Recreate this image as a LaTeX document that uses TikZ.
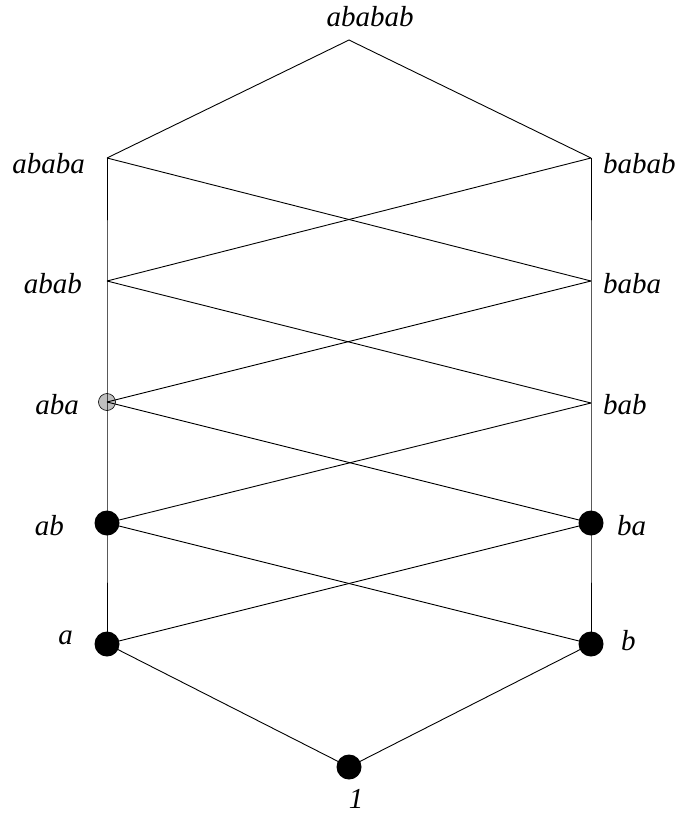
\documentclass[tikz,border=0pt]{standalone}
\usepackage{fontspec}
\setmainfont{Liberation Serif}
\usepackage{tikz}

\tikzset{
  lbl/.style={inner sep=0pt, font=\fontsize{29}{34}\selectfont\itshape},
  bigdot/.style={circle, fill=black, inner sep=0pt, minimum size=25pt},
  greydot/.style={circle, draw=black, fill=black!25, line width=0.6pt, inner sep=0pt, minimum size=17pt},
  edge/.style={line width=0.9pt}
}

\begin{document}
\begin{tikzpicture}[x=1pt,y=-1pt]
        \useasboundingbox (0,0) rectangle (678,816);

        % vertices
        \coordinate (ababab) at (349,40);
        \coordinate (ababa) at (107,158);
        \coordinate (babab) at (591,158);
        \coordinate (abab) at (107,281);
        \coordinate (baba) at (591,281);
        \coordinate (aba) at (107,402);
        \coordinate (bab) at (591,403);
        \coordinate (ab) at (107,523);
        \coordinate (ba) at (591,523);
        \coordinate (a) at (107,644);
        \coordinate (b) at (591,644);
        \coordinate (one) at (349,767);

        % dots
        \node[greydot] (d-aba) at (aba) {};
        \node[bigdot] (d-ab) at (ab) {};
        \node[bigdot] (d-ba) at (ba) {};
        \node[bigdot] (d-a) at (a) {};
        \node[bigdot] (d-b) at (b) {};
        \node[bigdot] (d-one) at (one) {};

        % edges
        \draw[edge] (ababa) -- (ababab) -- (babab);
        \draw[edge] (ababa) -- (abab) -- (aba) -- (ab) -- (a);
        \draw[edge] (babab) -- (baba) -- (bab) -- (ba) -- (b);
        \draw[edge] (ababa) -- (baba);
        \draw[edge] (babab) -- (abab);
        \draw[edge] (abab) -- (bab);
        \draw[edge] (baba) -- (aba);
        \draw[edge] (aba) -- (ba);
        \draw[edge] (bab) -- (ab);
        \draw[edge] (ab) -- (b);
        \draw[edge] (ba) -- (a);
        \draw[edge] (a) -- (one) -- (b);

        % labels
        \node[lbl, anchor=base] (l-ababab) at (370,27) {ababab};
        \node[lbl, anchor=base east] (l-ababa) at (85,173) {ababa};
        \node[lbl, anchor=base west] (l-babab) at (603,173) {babab};
        \node[lbl, anchor=base east] (l-abab) at (82,293) {abab};
        \node[lbl, anchor=base west] (l-baba) at (603,293) {baba};
        \node[lbl, anchor=base east] (l-aba) at (79,414) {aba};
        \node[lbl, anchor=base west] (l-bab) at (603,414) {bab};
        \node[lbl, anchor=base east] (l-ab) at (64,535) {ab};
        \node[lbl, anchor=base west] (l-ba) at (617,535) {ba};
        \node[lbl, anchor=base east] (l-a) at (73,644) {a};
        \node[lbl, anchor=base west] (l-b) at (621,650) {b};
        \node[lbl, anchor=base] (l-one) at (356,808) {1};
\end{tikzpicture}
\end{document}
